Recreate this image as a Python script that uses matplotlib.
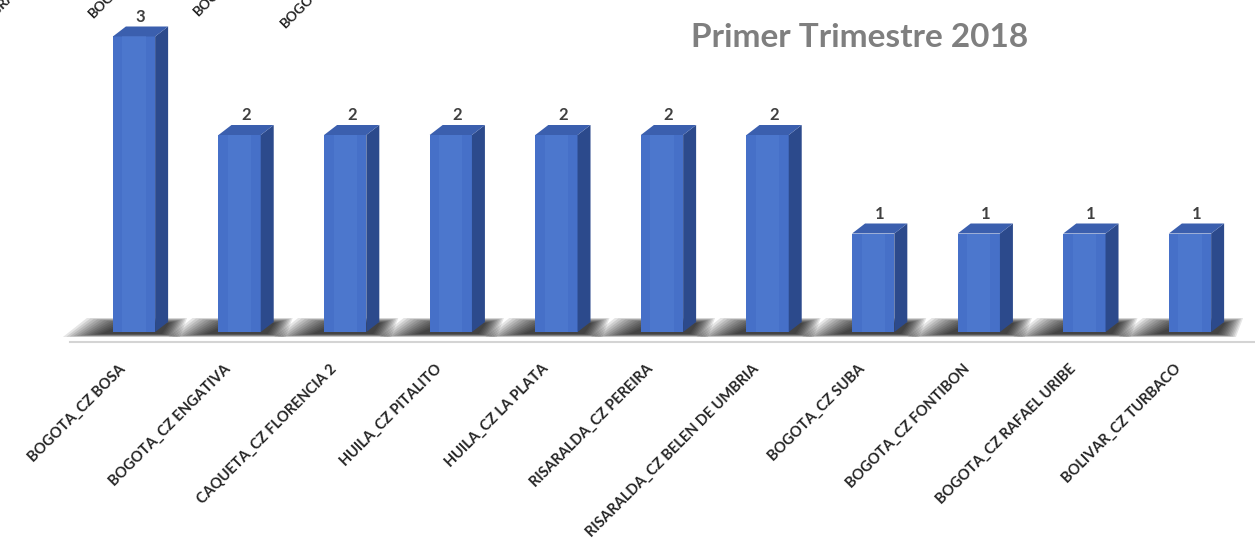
import numpy as np
import matplotlib.pyplot as plt
from matplotlib.patches import Polygon

# %% Datos
categorias = ["BOGOTA_CZ BOSA", "BOGOTA_CZ ENGATIVA", "CAQUETA_CZ FLORENCIA 2",
              "HUILA_CZ PITALITO", "HUILA_CZ LA PLATA", "RISARALDA_CZ PEREIRA",
              "RISARALDA_CZ BELEN DE UMBRIA", "BOGOTA_CZ SUBA", "BOGOTA_CZ FONTIBON",
              "BOGOTA_CZ RAFAEL URIBE", "BOLIVAR_CZ TURBACO"]
valores = [3, 2, 2, 2, 2, 2, 2, 1, 1, 1, 1]
titulo = "Primer Trimestre 2018"
# restos de etiquetas de la grafica anterior (cortadas arriba)
restos = ["CZ INTEGRAL", "BOGOTA_CZ", "BOGOTA_CZ", "BOGOTA_CZ"]

FUENTE = ["Lato", "DejaVu Sans"]
W, H = 1255, 552

fig = plt.figure(figsize=(W / 100, H / 100), dpi=100)
ax = fig.add_axes([0, 0, 1, 1])
paso = 105.6           # px entre barras
x0 = 134               # px centro primera barra
base = 332             # px de y=0
unidad = 98.5          # px por unidad
ax.set_xlim(-x0 / paso, (W - x0) / paso)
ax.set_ylim(-(H - base) / unidad, base / unidad)
ax.axis("off")

ancho = 0.40
dx, dy = 13 / paso, 10 / unidad
x = np.arange(len(valores))

def px_x(p):
    return p / paso

def px_y(p):
    return p / unidad

# sombras difusas en el piso (capas superpuestas -> degradado)
n = 12
for xi in x:
    xl, xr = xi - ancho / 2, xi + ancho / 2
    for k in range(n):
        f = k / (n - 1)
        izq = px_x(50 - 38 * f)
        der = px_x(32 - 18 * f)
        abajo = -px_y(5 - 3 * f)
        arriba = px_y(14 - 5 * f)
        incl = px_x(24)
        sh = Polygon([(xl - izq, abajo), (xr + der - incl * 0.3, abajo),
                      (xr + der, arriba), (xl - izq + incl, arriba)],
                     closed=True, facecolor="black", edgecolor="none", alpha=0.1, zorder=1)
        ax.add_patch(sh)

# linea base
ax.plot([px_x(70 - x0), px_x(W - x0)], [-0.1, -0.1], color="#d4d4d4", lw=1.5, zorder=0)

# barras 3D
ax.bar(x, valores, width=ancho, color="#4670c8", edgecolor="none", zorder=3)
for xi, v in zip(x, valores):
    xl, xr = xi - ancho / 2, xi + ancho / 2
    lado = Polygon([(xr, 0), (xr + dx, dy), (xr + dx, v + dy), (xr, v)],
                   closed=True, facecolor="#2c4a8c", edgecolor="none", zorder=3)
    tapa = Polygon([(xl, v), (xl + dx, v + dy), (xr + dx, v + dy), (xr, v)],
                   closed=True, facecolor="#3b5fae", edgecolor="none", zorder=3)
    ax.add_patch(lado)
    ax.add_patch(tapa)
    # brillo central de la cara frontal
    ax.bar(xi, v, width=ancho * 0.55, color="#5a86d8", alpha=0.35, edgecolor="none", zorder=4)
    ax.text(xi + dx / 2, v + dy + 0.02, str(v), ha="center", va="bottom",
            fontsize=12, fontweight="bold", color="#404040", family=FUENTE, zorder=5)

# etiquetas de categorias
for xi, c in zip(x, categorias):
    ax.text(xi - 0.15, -0.30, c, rotation=45, rotation_mode="anchor",
            ha="right", va="top", fontsize=10.5, fontweight="bold",
            color="#262626", family=FUENTE)

# titulo
ax.text(px_x(860 - x0), px_y(base - 38), titulo, ha="center", va="center",
        fontsize=24, fontweight="bold", color="#7f7f7f", family=FUENTE)

# restos cortados arriba
for (px, py), r in zip([(-40, 55), (95, 20), (200, 18), (287, 30)], restos):
    fig.text(px / W, 1 - py / H, r, rotation=45, rotation_mode="anchor",
             ha="left", va="bottom", fontsize=10, fontweight="bold",
             color="#262626", family=FUENTE)

fig.savefig("out.png", dpi=100)
